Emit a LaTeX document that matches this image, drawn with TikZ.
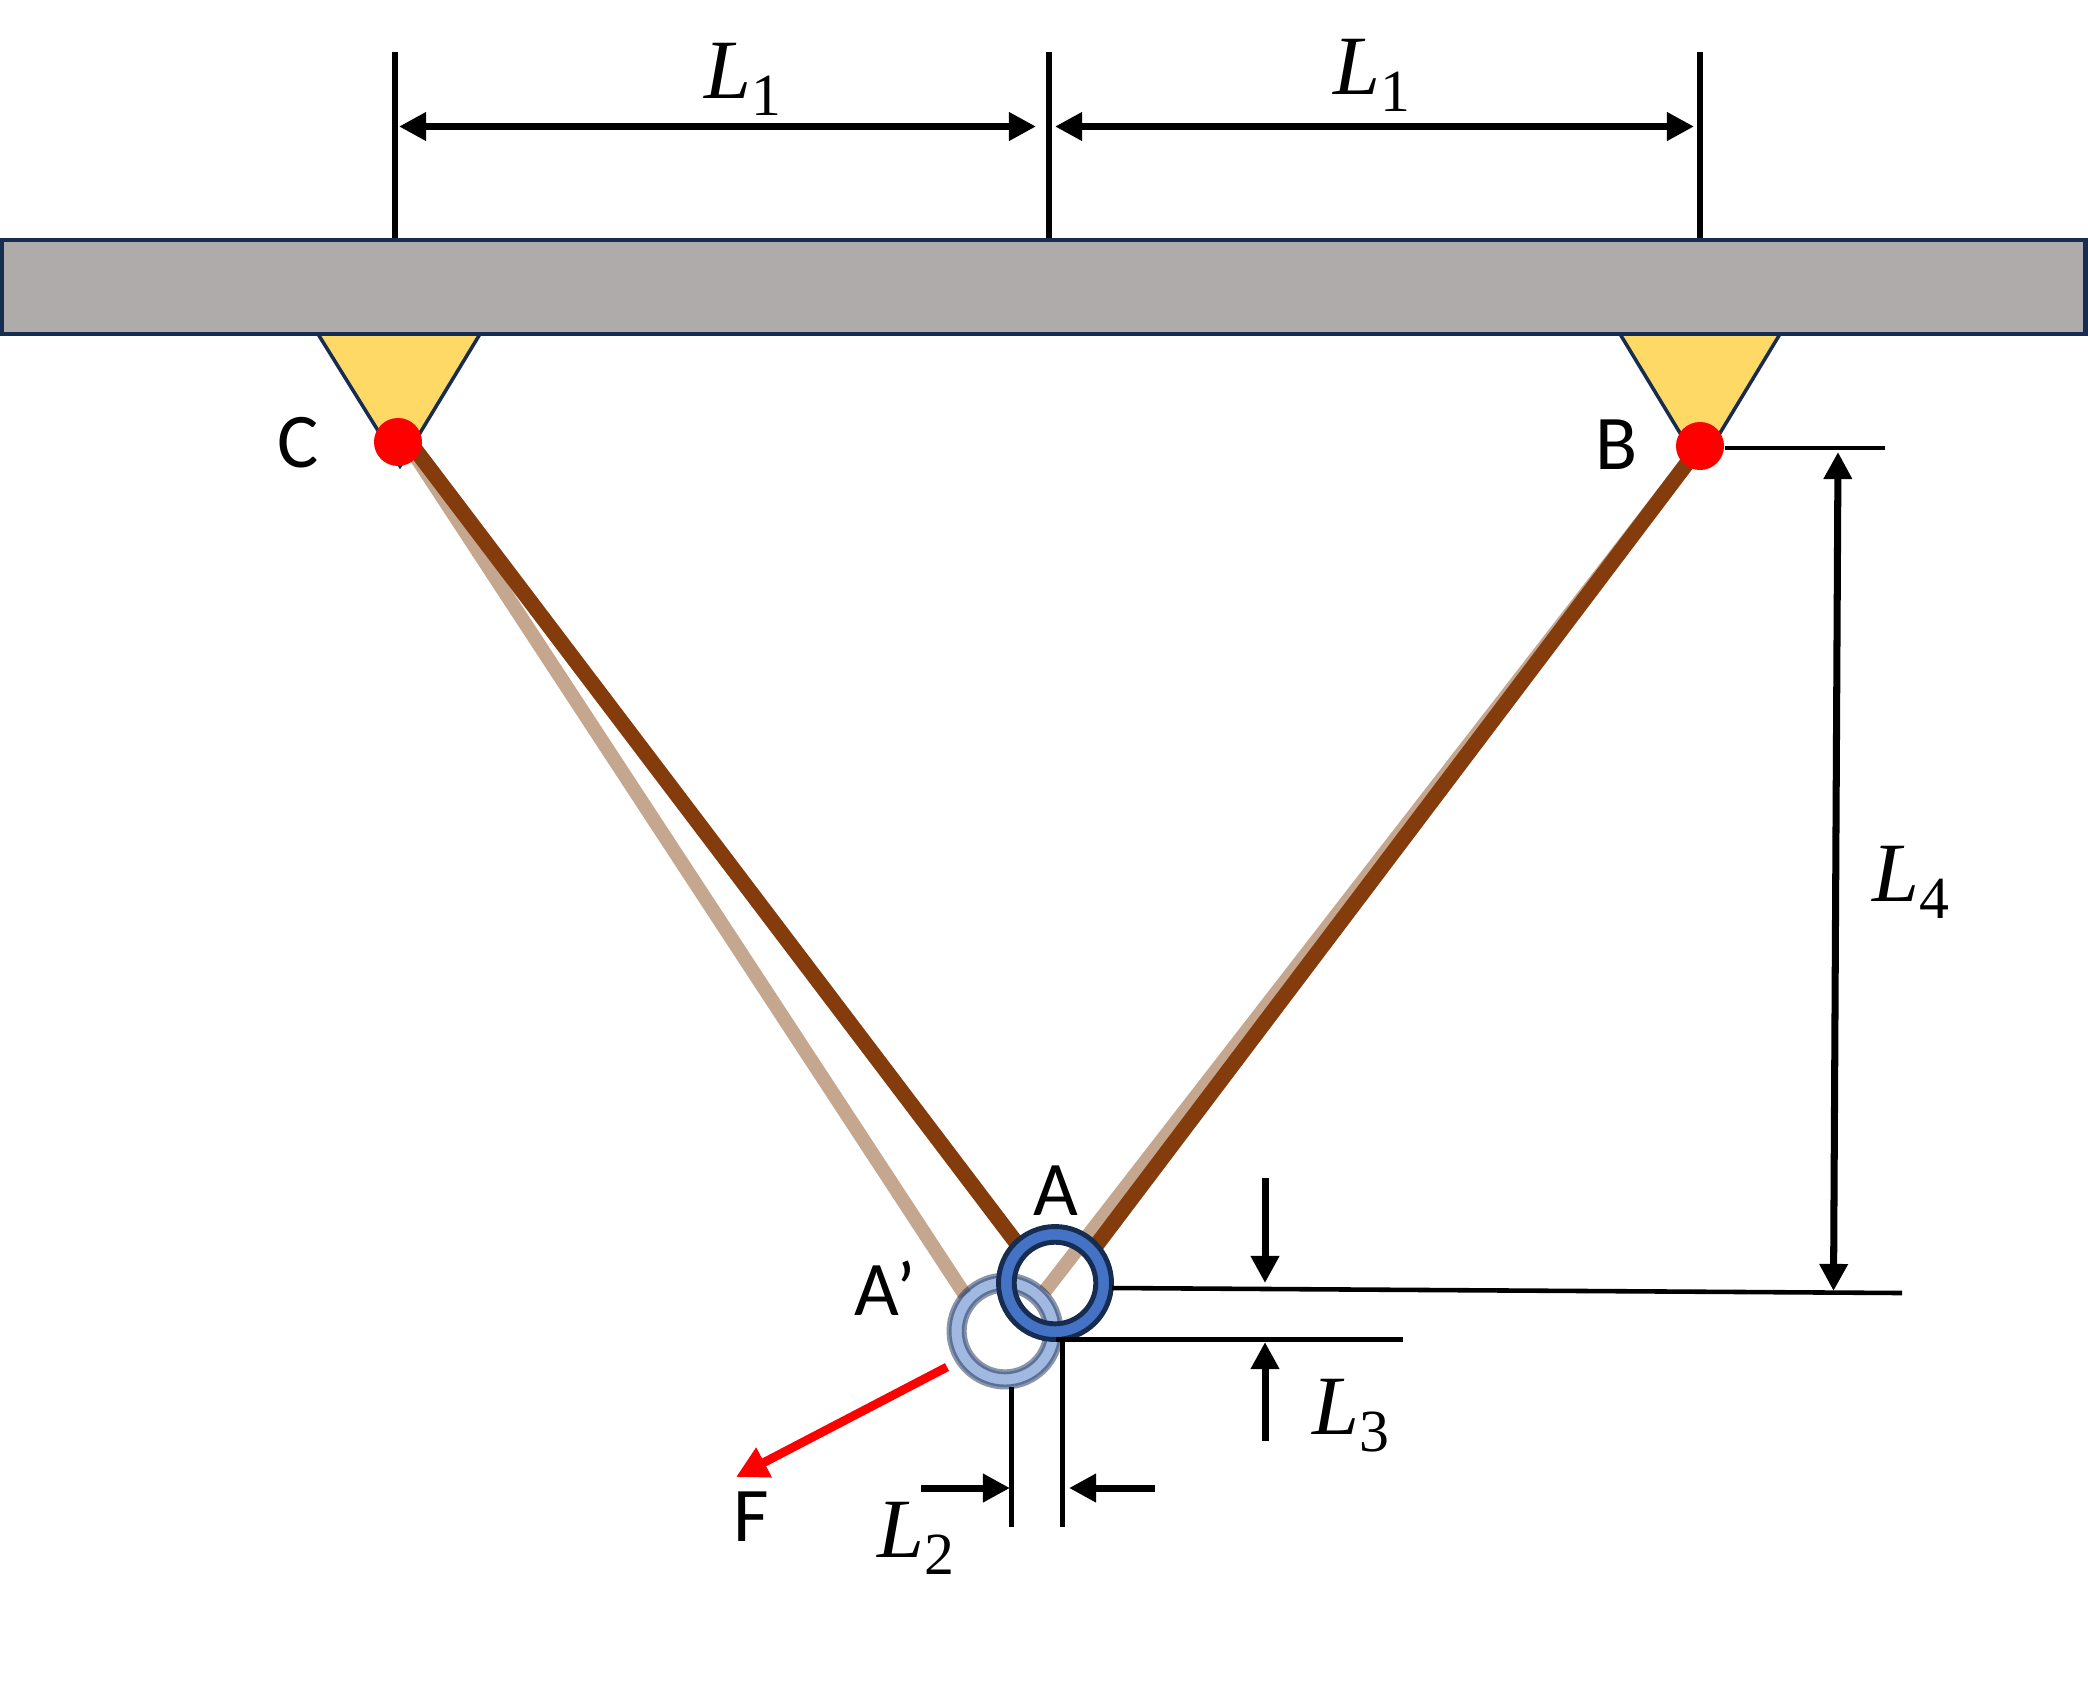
\documentclass[tikz,border=0pt]{standalone}
\usepackage{fontspec}
\usetikzlibrary{arrows.meta,positioning,calc}
\newfontfamily\labelfont{Carlito}
\newfontfamily\lenfont{Liberation Serif}
\newcommand{\len}[1]{{\lenfont\fontsize{24}{28}\selectfont\textit{L}\raisebox{-0.2em}{\fontsize{17}{20}\selectfont #1}}}
\definecolor{navy}{HTML}{172C51}
\definecolor{steel}{HTML}{4472C4}
\definecolor{rust}{HTML}{843C0C}
\definecolor{tan}{HTML}{C5A68F}
\definecolor{slab}{HTML}{AFABAB}
\definecolor{gold}{HTML}{FFD966}

\begin{document}
\begin{tikzpicture}[x=0.01cm,y=-0.01cm,>={Triangle[length=7.7pt,width=7.7pt]}]
  \tikzstyle{slabbox}=[rectangle,draw=navy,fill=slab,line width=1.3pt,inner sep=0pt,minimum width=20.83cm,minimum height=0.94cm]
  \tikzstyle{bracket}=[draw=navy,fill=gold,line width=1pt]
  \tikzstyle{hinge}=[circle,fill=red,inner sep=0pt,minimum size=0.48cm]
  \tikzstyle{bar}=[draw=rust,line width=4.4pt]
  \tikzstyle{oldbar}=[draw=tan,line width=4pt]
  \tikzstyle{ring}=[draw=navy,fill=steel,line width=1.4pt,even odd rule]
  \tikzstyle{tick}=[draw,line width=1.3pt]
  \tikzstyle{dim}=[draw,line width=2pt]
  \tikzstyle{txt}=[inner sep=0pt,font=\labelfont\fontsize{22}{26}\selectfont]

  \useasboundingbox (0,0) rectangle (2088,1696);

  \coordinate (C) at (398,442);
  \coordinate (B) at (1700,446);
  \coordinate (A) at (1055,1283);
  \coordinate (Ap) at (1005,1331);

  % brackets under the slab
  \draw[bracket] (318,334) -- (400,466) -- (480,334);
  \draw[bracket] (1620,334) -- (1700,466) -- (1780,334);
  \node[slabbox] (slab) at (1043.5,287) {};

  % old position, then new position
  \coordinate (oldC0) at (405,440);
  \coordinate (oldC) at (965,1295);
  \coordinate (oldB) at (1045,1291);
  \coordinate (barC0) at (405,436);
  \coordinate (barC) at (1018,1245);
  \coordinate (barB) at (1095,1247);
  \draw[oldbar] (oldC0) -- (oldC);
  \draw[oldbar] (B) -- (oldB);
  \draw[ring,opacity=0.5] (Ap) circle [radius=56] (Ap) circle [radius=40.8];
  \draw[bar] (barC0) -- (barC);
  \draw[bar] (B) -- (barB);
  \draw[ring] (A) circle [radius=56.5] (A) circle [radius=40.8];

  \node[hinge] (hingeC) at (C) {};
  \node[hinge] (hingeB) at (B) {};

  % top dimensions
  \coordinate (t1) at (395,52);
  \coordinate (t2) at (1049,52);
  \coordinate (t3) at (1700,52);
  \draw[line width=1.9pt] (t1) -- (t1 |- slab.north);
  \draw[line width=1.9pt] (t2) -- (t2 |- slab.north);
  \draw[line width=1.9pt] (t3) -- (t3 |- slab.north);
  \draw[dim,<->] (399,126.5) coordinate (d1) -- (1036,126.5) coordinate (d2);
  \draw[dim,<->] (1055,126.5) coordinate (d3) -- (1694,126.5) coordinate (d4);
  \node (l1a) at (743,79) {\len{1}};
  \node (l1b) at (1372,75) {\len{1}};

  % L4
  \coordinate (e1) at (1885,448);
  \coordinate (e2) at (1112,1288);
  \coordinate (e3) at (1902,1293);
  \draw[tick,line width=1.4pt] (hingeB.east |- e1) -- (e1);
  \draw[tick] (e2) -- (e3);
  \draw[dim,<->] (1838,452) coordinate (d5) -- (1833.5,1291) coordinate (d6);
  \node (l4) at (1911,882) {\len{4}};

  % L3
  \coordinate (e4) at (1056,1339.5);
  \coordinate (e5) at (1403,1339.5);
  \draw[tick,line width=1.35pt] (e4) -- (e5);
  \draw[dim,->] (1265,1178) coordinate (d7) -- (1265,1283) coordinate (d8);
  \draw[dim,->] (1265,1441) coordinate (d9) -- (1265,1342) coordinate (d10);
  \node (l3) at (1351,1416) {\len{3}};

  % L2
  \coordinate (e6) at (1011.5,1387);
  \coordinate (e7) at (1011.5,1527);
  \coordinate (e8) at (1062.5,1339);
  \coordinate (e9) at (1062.5,1527);
  \draw[tick] (e6) -- (e7);
  \draw[tick] (e8) -- (e9);
  \draw[dim,->] (921,1488) coordinate (d11) -- (1010,1488) coordinate (d12);
  \draw[dim,->] (1155,1488) coordinate (d13) -- (1069,1488) coordinate (d14);
  \node (l2) at (916,1538) {\len{2}};

  % load
  \coordinate (f1) at (947,1367);
  \coordinate (f2) at (736,1477);
  \draw[draw=red,line width=2.5pt,->,>={Triangle[length=9pt,width=9pt]}] (f1) -- (f2);

  \node[txt] (labC) at (298,443) {C};
  \node[txt] (labB) at (1617,445) {B};
  \node[txt] (labA) at (1056,1191) {A};
  \node[txt] (labAp) at (885,1288) {A’};
  \node[txt] (labF) at (751,1517) {F};
\end{tikzpicture}
\end{document}
